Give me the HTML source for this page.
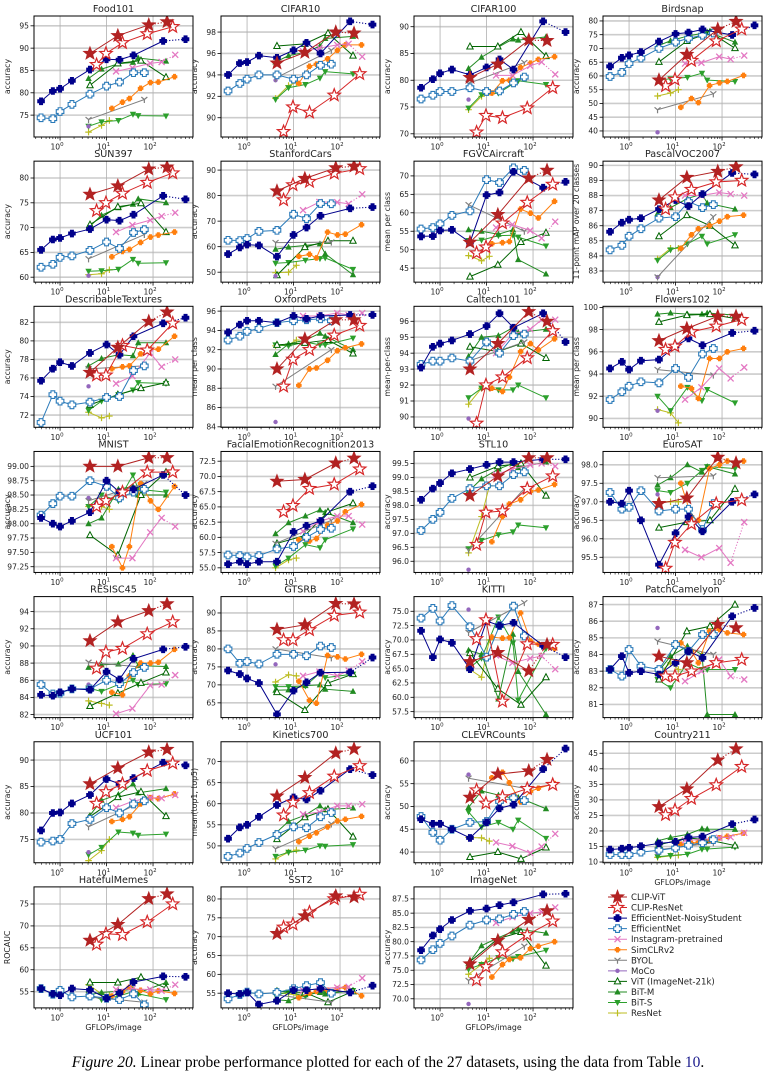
<!DOCTYPE html>
<html><head><meta charset="utf-8"><style>
body{margin:0;background:#fff}
svg{display:block}
text{font-family:"DejaVu Sans","Liberation Sans",sans-serif;fill:#222}
.cap{font-family:"Liberation Serif",serif;font-size:15.5px;fill:#000}
</style></head><body>
<svg id="fig" width="776" height="1088" viewBox="0 0 776 1088" xmlns="http://www.w3.org/2000/svg">
<text class="cap" x="388" y="1067" text-anchor="middle"><tspan font-style="italic">Figure 20.</tspan> Linear probe performance plotted for each of the 27 datasets, using the data from Table <tspan style="fill:#1a1a8c">10</tspan>.</text>
</svg>
<script>
// GFLOPs per model (x values)
const xCV=[4.4,17.5,81,200];
const xCR=[6.1,9.7,22,75,265];
const xENS=[0.39,0.7,1.0,1.8,4.4,10,19,38,165,500];
const xEFF=[0.39,0.7,1.0,1.8,4.4,10,19,38,65];
const xINS=[16,36,87,153,300];
const xSIM=[13,22,31,54,88,130,290];
const xBYOL=[4.1,65];
const xMOCO=[4.1];
const xVIT=[4.4,17.5,55,190];
const xBITM=[4.1,7.8,18,37,48,190];
const xBITS=[4.1,7.8,18,37,48,190];
const xRES=[4.1,7.8,11.5];

const seriesNames=["CLIP-ViT","CLIP-ResNet","EfficientNet-NoisyStudent","EfficientNet","Instagram-pretrained","SimCLRv2","BYOL","MoCo","ViT (ImageNet-21k)","BiT-M","BiT-S","ResNet"];
const datasetNames=["Food101","CIFAR10","CIFAR100","Birdsnap","SUN397","StanfordCars","FGVCAircraft","PascalVOC2007","DescribableTextures","OxfordPets","Caltech101","Flowers102","MNIST","FacialEmotionRecognition2013","STL10","EuroSAT","RESISC45","GTSRB","KITTI","PatchCamelyon","UCF101","Kinetics700","CLEVRCounts","Country211","HatefulMemes","SST2","ImageNet"];
const yLabels=["accuracy","accuracy","accuracy","accuracy","accuracy","accuracy","mean per class","11-point mAP over 20 classes","accuracy","mean per class","mean-per-class","mean per class","accuracy","accuracy","accuracy","accuracy","accuracy","accuracy","accuracy","accuracy","accuracy","mean(top1, top5)","accuracy","accuracy","ROCAUC","accuracy","accuracy"];
const yLimits=[[70.1,97.2],[88.2,99.5],[69.4,92],[37.8,81.8],[59,83.4],[46.1,93.5],[41.2,74],[82.26,90.28],[70.68,83.73],[83.95,96.5],[89.35,96.94],[89.2,100.1],[97.15,99.26],[54.24,74.1],[95.6,99.93],[95.09,98.36],[81.65,95.75],[60.9,94.55],[56.46,77.56],[80.21,87.48],[70.6,93.46],[46,74.7],[37.65,64.2],[9.77,48.7],[51.3,78.9],[51.1,83.2],[68.4,89.6]];
const yTicks=[[75,95,5,0],[90,98,2,0],[70,90,5,0],[40,80,5,0],[60,80,5,0],[50,90,10,0],[45,70,5,0],[83,90,1,0],[72,82,2,0],[84,96,2,0],[90,96,1,0],[90,100,2,0],[97.25,99,0.25,2],[55,72.5,2.5,1],[96,99.5,0.5,1],[95.5,98,0.5,1],[82,94,2,0],[65,90,5,0],[57.5,75,2.5,1],[81,87,1,0],[75,90,5,0],[50,70,5,0],[40,60,5,0],[10,45,5,0],[55,75,5,0],[55,80,5,0],[70,87.5,2.5,1]];

// per dataset: [CLIP-ViT, CLIP-ResNet, ENS, EffNet, Instagram, SimCLRv2, BYOL, MoCo, ViT, BiT-M, BiT-S, ResNet]
const food101=[[88.8,92.8,95.2,95.9],[86.3,88.8,91.2,93.2,94.8],[78.1,80.4,80.9,82.7,85.2,87.5,87.4,88.4,91.6,92.0],[74.4,74.2,75.8,77.4,79.7,81.5,82.4,84.5,84.5],[84.8,85.6,86.6,86.9,88.5],[76.5,77.9,78.7,81,82.3,82.4,83.6],[74,78.5],[72.5],[81.7,86.6,87.2,83.5],[83.2,85.3,86.5,86.8,87.8,87.1],[72.5,73.5,73.8,75.2,74.9,74.8],[71.2,72.7,73.8]];
const cifar10=[[95.1,96.1,98.0,97.9],[88.7,91.0,90.5,92.1,94.1],[94.0,95.1,95.2,95.8,95.6,96.3,97.0,96.0,99.0,98.7],[92.5,93.2,93.6,94.0,94.0,93.6,94.0,94.9,95.0],[96.2,96.5,96.8,96.9,95.7],[93.2,94.8,95.0,95.5,96.3,96.8,96.8],[93.7,96.3],[93.5],[96.7,96.9,97.9,95.8],[95.2,95.8,96.1,96.7,97.4,97.6],[91.7,92.8,93.1,93.7,94.3,94.1],[91.8,93.0,93.3]];
const cifar100=[[80.5,83.0,87.5,87.4],[70.3,73.4,73.0,74.8,78.6],[78.6,80.2,81.3,82.0,81.0,82.4,83.9,82.0,91.0,89.0],[76.5,77.2,77.9,77.9,78.6,77.9,78.0,79.5,80.6],[80.9,80.9,82.7,83.4,81.1],[77.6,79.9,80.0,82.4,83.2,83.9,84.4],[79.4,83.3],[76.4],[86.3,86.3,89.0,84.5],[82.2,84.3,86.2,87.7,87.5,88.1],[74.8,77.3,77.6,79.3,79.9,79.2],[74.5,77.0,77.8]];
const birdsnap=[[58.5,67.8,77.0,79.8],[56.4,58.7,65.6,72.7,77.0],[63.5,66.6,67.5,68.7,72.5,75.3,75.8,76.9,74.9,78.4],[59.8,61.3,64.5,66.5,70.0,72.3,73.7,74.8,75.6],[64.5,64.8,67.0,66.1,67.4],[48.6,51.8,50.3,56.5,57.5,58.0,60.2],[47.7,53.5],[39.5],[65.1,72.7,75.9,70.1],[70.9,72.8,74.5,75.5,76.0,72.3],[58.5,59,59.5,61,58.5,58],[52.7,53.8,55.0]];
const sun397=[[76.7,78.4,81.8,82.2],[73.4,75.0,76.9,79.1,81.0],[65.5,67.6,67.9,68.8,69.7,71.6,71.4,72.6,76.4,75.7],[62.0,62.6,64.0,64.3,65.4,67.1,65.8,69.0,69.6],[69.1,70.5,71.5,72.3,73.0],[64.1,65.2,65.6,67.0,68.1,68.5,69.1],[63.7,68.6],[60.3],[70.6,74.2,74.9,69.1],[70.0,72.5,74.0,74.7,75.8,75.0],[61.2,61.3,61.6,63.6,62.8,62.9],[60.5,60.7,61.5]];
const stanfordCars=[[81.8,86.7,90.9,91.5],[78.3,84.2,85.5,88.7,90.5],[57.1,59.7,60.8,60.5,56.1,64.6,67.5,72.1,75.0,75.5],[62.5,62.4,63.2,66.0,66.4,72.7,71.0,76.9,76.8],[74.3,77.5,77.4,76.8,80.5],[56.2,57,55.6,65.7,64.6,64.9,68.6],[61.6,61.8],[48.5],[48.8,59.8,62.3,62.3],[59,59.8,60.5,61.1,57.2,49],[53.5,53.8,54.7,55.3,55.6,51.1],[49.8,50,52.7]];
const fgvcAircraft=[[52.0,59.5,69.4,71.5],[49.1,50.7,57.2,62.8,67.7],[53.6,53.7,55.2,55.4,52.0,64.8,65.5,71.1,66.8,68.4],[55.6,56.0,57.0,59.3,60.5,69.0,68.2,72.2,71.5],[56,56.8,55.2,53.1,57.6],[51.6,51.9,52.2,61.0,59.9,58.6,63.1],[62.2,55],[51.5],[42.7,45.9,52.1,54.6],[55.4,55.0,54.2,55.4,47.3,43.4],[52.5,52.6,53.8,53.9,53.4,51],[48.4,47,48.2]];
const pascalVOC=[[87.7,89.2,89.6,89.9],[87.1,87.9,88.4,88.9,89.0],[85.6,86.2,86.4,86.5,87.1,87.7,87.3,88.1,89.5,89.4],[84.4,84.7,85.3,85.8,86.5,86.6,87.6,87.2,87.4],[88.0,88.0,88.2,88.1,88.0],[84.5,85.4,85.8,86.0,86.3,86.6,86.7],[82.6,86.6],[82.6],[85.3,86.7,86.0,84.7],[86.8,87.2,87.8,88.1,87.5,87.1],[83.7,84.4,84.8,85.3,84.8,85.4],[83.8,84.5,84.5]];
const dtd=[[76.6,79.3,82.1,83.1],[76.3,76.3,79.5,79.0,81.9],[75.7,77.0,77.7,77.3,78.7,79.6,78.5,80.5,81.9,82.5],[71.2,74.2,73.5,73.1,73.4,73.9,74.0,76.8,77.3],[75.4,76.2,78.7,77.2,78.0],[77.0,77.2,77.3,78.6,79.1,79.1,80.5],[77.0,77.3],[75.1],[73.1,74.2,74.9,75.5],[77.3,78.1,78.5,78.4,79.8,79.8],[72.5,73.5,74.2,74.7,75.5,75.4],[72.3,71.7,71.9]];
const oxfordPets=[[90.0,93.1,95.1,95.1],[88.2,91.0,92.0,93.5,94.5],[93.8,94.6,95.0,95.0,94.8,95.5,95.2,95.5,95.6,95.6],[93.0,93.4,93.9,94.2,94.8,95.0,95.1,95.2,95.0],[95.5,95.5,95.8,95.6,95.8],[88.3,90.0,90.1,90.9,91.9,92.2,92.6],[88.2,92.0],[84.5],[92.5,92.7,93.0,91.6],[91.5,92.6,93.0,93.7,93.4,92.0],[92.5,92.4,92.8,92.5,92.5,93.2],[92.4,92.5,93.0]];
const caltech101=[[93.0,94.6,96.6,96.0],[89.6,92.0,92.5,93.7,95.4],[93.1,94.4,94.6,94.8,95.2,95.7,96.5,95.6,96.5,94.7],[93.3,93.5,93.5,93.7,93.5,94.7,94.0,95.1,95.2],[94,95.2,95.5,96.1,96.1],[91.8,91.6,92.5,94.1,94.6,94.2,94.9],[93.5,94.7],[89.9],[94.4,94.1,94.6,93.7],[93.8,95.0,95.1,95.6,95.3,95.5],[91.2,91.8,91.7,91.7,92.0,91.2],[90.8,91.8,91.8]];
const flowers102=[[97.0,98.1,99.2,99.2],[96.2,96.5,97.8,98.3,98.9],[94.5,95.1,94.4,95.2,95.3,96.5,97.2,96.6,97.7,97.9],[91.7,92.4,92.9,93.3,93.2,94.5,93.7,95.8,96.3],[91.7,92.8,94.5,93.6,94.6],[92.9,92.7,91.8,95.4,95.4,96.0,96.3],[94.4,93.9],[90.7],[98.7,99.3,99.4,99.0],[99.4,99.5,99.4,99.4,99.5,99.3],[92.0,90.7,92.8,91.6,92.6,91.4],[90.8,90.5,89.6]];
const mnist=[[99.0,99.0,99.15,99.15],[98.3,98.4,98.55,98.9,98.9],[98.1,98.0,97.95,98.05,98.2,98.75,98.55,98.6,98.85,98.5],[98.15,98.35,98.48,98.48,98.75,98.65,98.45,98.55,98.6],[97.4,97.4,97.85,98.1,97.95],[97.6,97.23,97.6,98.7,98.4,98.25,98.65],[98.4,98.7],[98.45],[97.8,97.45,98.5,98.9],[98.0,98.1,98.6,98.65,98.5,98.5],[98.3,98.5,98.4,98.85,98.6,98.55],[98.3,98.3,98.25]];
const fer2013=[[69.2,69.5,72.2,73.0],[64.2,65.2,68.0,68.7,71.2],[55.6,56.0,55.6,56.0,56.0,60.9,61.9,62.7,67.5,68.4],[57.1,57.0,56.8,57.0,58.1,58.5,60.0,61.3,61.5],[61.0,62.6,63.5,63.5,62.1],[59.6,59.4,59.8,62.0,62.7,64.2,65.4],[59.0,62.8],[58.1],[59.0,60.3,64.2,65.6],[60.6,62.4,63.5,64.5,64.1,62.4],[55.3,56.6,58.8,58.3,59.6,61.4],[55.0,56.3,56.6]];
const stl10=[[98.35,99.05,99.7,99.7],[96.6,97.75,97.8,98.6,99.05],[98.2,98.6,98.8,99.15,99.3,99.45,99.55,99.55,99.65,99.65],[97.1,97.5,97.75,98.25,98.6,98.7,98.7,99.1,99.2],[99.1,99.3,99.45,99.5,99.4],[96.7,97.6,98.05,98.2,98.5,98.55,98.75],[96.4,98.6],[95.7],[99.0,99.4,99.5,98.35],[98.5,98.95,99.3,99.5,99.35,99.55],[96.45,96.75,96.95,97.05,97.3,97.2],[96.3,97.6,98.7]];
const eurosat=[[96.95,97.1,98.2,98.05],[95.2,95.9,96.4,96.95,97.05],[97.0,96.95,97.3,96.5,95.3,96.15,96.6,96.2,97.0,97.2],[97.25,96.8,96.85,97.3,96.75,96.8,96.8,96.25,96.95],[95.7,95.5,95.75,95.35,96.45],[97.5,96.6,96.5,97.9,98.0,98.1,98.1],[97.65,97.7],[97.2],[96.3,96.45,96.5,97.35],[97.45,97.65,98.0,97.8,97.95,97.75],[97.3,97.25,97.5,97.85,97.95,97.9],[97.0,97.0,97.0]];
const resisc45=[[90.6,92.8,94.1,94.9],[87.4,89.3,89.7,91.4,92.8],[84.3,84.2,84.6,85.0,84.9,87.0,86.1,88.5,89.6,89.9],[85.5,84.4,84.5,85.0,85.0,86.0,85.6,86.9,87.5],[82.1,82.7,85.4,85.5,86.6],[84.6,84.3,86.5,88.0,88.0,88.1,89.6],[88.1,87.5],[85.5],[83.0,84.5,85.7,86.9],[87.5,87.8,87.9,88.9,87.7,87.6],[85.1,84.7,85.5,86.0,85.5,85.6],[83.6,83.3,83.1]];
const gtsrb=[[85.4,86.7,92.6,92.5],[82.5,82.5,85.3,89.3,90.2],[74.0,73.0,71.8,70.5,61.8,68.4,70.7,73.4,73.5,77.6],[80.0,76.0,76.5,75.8,78.5,78.5,78.1,80.8,80.4],[72.5,73.7,72.5,74.0,76.5],[71,65.7,64.9,78.2,77.8,77.2,78.5],[80,77.5],[75.7],[68.0,63.0,70.5,73.0],[68.5,68.6,69.8,70.0,68.8,68.2],[69.5,69.5,69.7,73.3,72.0,73.0],[70.8,72.8,72.5]];
const kitti=[[66.2,67.8,64.6,69.2],[70.2,73.5,59.3,69.3,69.2],[71.6,67.0,70.1,69.5,64.9,73.3,72.5,73.0,69.0,67.0],[73.8,75.5,73.3,76.0,72.3,67.0,72.5,75.9,70.7],[67.3,66.0,66.8,67.2,64.9],[70.5,70.3,70.4,74.7,69.8,69.3,68.5],[71.3,76.5],[75.3],[67.7,61.5,58.7,63.5],[68.2,67.5,59.7,71.0,64.5,57.0],[65.0,66.8,74.0,69.5,59.5,68.5],[65.0,63.5,70.0]];
const pcam=[[83.9,83.5,85.8,85.6],[82.7,82.7,83.0,83.5,83.7],[83.1,83.9,82.9,83.0,82.8,83.5,84.2,83.8,86.3,86.8],[83.1,82.7,84.3,83.3,83.1,84.6,84.2,85.2,85.2],[82.4,83.0,83.7,82.7,82.5],[84.7,84.2,83.5,85.4,85.5,85.3,85.2],[84.8,84.0],[85.6],[82.5,85.4,85.7,87.0],[82.9,83.9,84.5,84.0,80.4,80.4],[82.5,82.0,83.5,83.1,83.1,83.1],[82.8,83.5,83.1]];
const ucf101=[[85.5,88.5,91.5,92.0],[81.8,84.0,85.5,88.0,89.4],[76.7,80.0,80.1,81.8,83.4,86.4,85.5,86.6,89.5,89.0],[74.5,74.7,75.0,78.0,78.8,81.0,80.0,81.7,82.3],[81.0,82.2,82.9,82.8,83.4],[78.4,78.8,79.3,81.7,82.9,82.7,83.6],[77.4,82.3],[72.6],[79.3,83.0,84.0,79.4],[79.2,82.4,83.5,85.5,83.8,84.6],[72.1,73.5,76.4,76.2,75.8,76.0],[71.0,72.9,75.0]];
const kinetics700=[[61.8,66.2,72.0,73.0],[57.3,60.3,62.6,66.5,69.0],[51.7,54.4,55.0,56.9,59.7,61.5,61.0,63.1,68.2,66.8],[47.5,48.3,49.4,50.8,52.7,54.5,54.3,56.9,57.9],[57.5,58.0,59.5,59.5,59.9],[51.0,52.3,53.1,54.5,55.9,56.3,57.0],[49.3,55.2],[52.5],[51.6,56.8,58.7,52.2],[53.0,55.8,57.3,59.5,58.6,59.0],[47.5,48.5,49.0,50.0,49.9,50.3],[46.9,48.5,49.0]];
const clevrCounts=[[52.0,57.1,57.8,60.3],[53.6,50.7,52.1,53.9,54.8],[47.2,46.2,46.2,45.0,43.1,46.5,49.6,50.4,58.2,62.7],[47.8,44.3,42.6,45.0,46.5,46.7,51.1,51.9,51.3],[42.1,41.3,39.8,41.2,44.0],[56.3,57.5,55.2,51.0,53.3,54.0,55.0],[56.2,54.0],[57.0],[38.9,40.0,38.5,41.0],[49.8,53.4,52.5,51.8,52.0,49.5],[48.8,45.5,46.5,45.0,47.0,43.0],[43.2,43.1,42.4]];
const country211=[[27.8,33.5,42.8,46.4],[25.2,26.7,30.4,34.8,40.7],[14.0,14.3,14.6,15.1,16.0,16.5,17.9,18.2,22.2,23.7],[12.4,12.4,12.4,13.2,13.8,14.5,15.4,16.2,17.2],[17.0,17.2,17.8,18.0,19.4],[15.7,16.0,16.4,17.1,17.8,18.3,19.3],[13.9,16.2],[13.0],[15.5,17.8,17.0,15.3],[16.8,17.9,18.9,20.7,20.6,20.5],[11.7,12.1,12.5,14.1,14.2,14.8],[11.5,12.0,12.2]];
const hatefulMemes=[[66.7,70.3,76.2,77.3],[65.8,68.2,68.0,70.9,75.0],[55.7,54.5,54.2,55.7,55.4,53.5,54.7,57.2,58.5,58.4],[55.7,54.4,55.3,53.8,54.0,53.5,53.2,54.5,52.0],[55.5,55.6,55.5,55.2,56.6],[54.0,55.0,56.0,55.3,54.5,55.2,54.6],[53.8,52.6],[54.5],[57.1,57.1,58.3,55.8],[54.3,54.8,55.1,55.6,54.7,57.1],[54.4,53.2,54.0,55.0,54.5,53.2],[56.6,54.5,54.3]];
const sst2=[[70.8,75.5,80.8,80.5],[72.5,73.3,76.5,80.0,81.2],[55.0,54.8,55.2,52.0,53.0,55.8,55.8,56.2,55.2,57.0],[53.5,54.6,55.3,54.8,55.2,56.2,57.0,57.8,55.0],[55.7,56.2,56.5,56.7,59.0],[53.8,55.0,55.5,55.8,56.2,56.5,54.3],[54.6,52.6],[55.3],[55.5,55.2,52.6,55.5],[53.3,53.0,54.6,55.2,54.8,55.7],[54.5,55.3,54.2,55.5,55.0,55.7],[55.2,54.8,54.5]];
const imagenet=[[76.1,80.2,83.9,85.4],[73.3,75.6,78.2,81.2,83.6],[78.5,81.1,82.2,83.8,85.4,85.8,86.4,86.9,88.3,88.4],[76.8,78.6,79.7,81.0,82.9,83.8,84.0,84.8,85.3],[83.3,84.3,85.0,85.2,86.0],[73.8,76.0,76.9,77.2,78.8,79.2,80.0],[73.2,79.2],[69.1],[76.5,80.5,81.7,75.8],[76.2,79.3,80.7,81.8,82.2,81.5],[75.2,76.0,77.2,77.0,77.4,78.5],[74.3,76.0,77.1]];

const allData=[food101,cifar10,cifar100,birdsnap,sun397,stanfordCars,fgvcAircraft,pascalVOC,dtd,oxfordPets,caltech101,flowers102,mnist,fer2013,stl10,eurosat,resisc45,gtsrb,kitti,pcam,ucf101,kinetics700,clevrCounts,country211,hatefulMemes,sst2,imagenet];
const xsAll=[xCV,xCR,xENS,xEFF,xINS,xSIM,xBYOL,xMOCO,xVIT,xBITM,xBITS,xRES];

const NS="http://www.w3.org/2000/svg";
const svg=document.getElementById('fig');
const colL=[34,221,414,603], PW=159, PH=121;
const slugs=["clip-vit","clip-resnet","efficientnet-noisystudent","efficientnet","instagram","simclrv2","byol","moco","vit-in21k","bit-m","bit-s","resnet"];
const lineCol=["#b22222","#d62728","#00008b","#2a7ab9","#e377c2","#ff7f0e","#7f7f7f","#9467bd","#006400","#228b22","#2ca02c","#bcbd22"];
const dotLast=[true,false,true,false,true,false,false,false,false,false,false,false];

function el(tag,attrs,parent){const e=document.createElementNS(NS,tag);for(const k in attrs)e.setAttribute(k,attrs[k]);(parent||svg).appendChild(e);return e;}
function starPts(cx,cy,r){let p=[];for(let i=0;i<10;i++){const rr=i%2?r*0.42:r;const a=-Math.PI/2+i*Math.PI/5;p.push((cx+rr*Math.cos(a)).toFixed(2)+","+(cy+rr*Math.sin(a)).toFixed(2));}return p.join(" ");}
function plusPts(cx,cy,r,w){const a=w;return [[-a,-r],[a,-r],[a,-a],[r,-a],[r,a],[a,a],[a,r],[-a,r],[-a,a],[-r,a],[-r,-a],[-a,-a]].map(q=>(cx+q[0]).toFixed(2)+","+(cy+q[1]).toFixed(2)).join(" ");}
function marker(s,cx,cy,g){
  let m;
  switch(s){
    case 0:m=el('polygon',{points:starPts(cx,cy,6.8),fill:"#b22222",stroke:"#b22222","stroke-width":0.8},g);break;
    case 1:m=el('polygon',{points:starPts(cx,cy,6.5),fill:"#fff",stroke:"#d62728","stroke-width":1.2},g);break;
    case 2:m=el('polygon',{points:plusPts(cx,cy,3.8,2),fill:"#00008b"},g);break;
    case 3:m=el('polygon',{points:plusPts(cx,cy,3.8,1.9),fill:"#fff",stroke:"#2a7ab9","stroke-width":1.1},g);break;
    case 4:m=el('path',{d:`M${cx-3},${cy-3}L${cx+3},${cy+3}M${cx-3},${cy+3}L${cx+3},${cy-3}`,stroke:"#e377c2","stroke-width":1.3,fill:"none"},g);break;
    case 5:m=el('polygon',{points:plusPts(cx,cy,2.8,1.5),fill:"#ff7f0e"},g);break;
    case 6:m=el('path',{d:`M${cx},${cy}L${cx},${cy+3.5}M${cx},${cy}L${cx-3},${cy-2.5}M${cx},${cy}L${cx+3},${cy-2.5}`,stroke:"#7f7f7f","stroke-width":1.2,fill:"none"},g);break;
    case 7:m=el('circle',{cx:cx,cy:cy,r:2.2,fill:"#9467bd"},g);break;
    case 8:m=el('polygon',{points:`${cx},${cy-3.5} ${cx+3.2},${cy+2.5} ${cx-3.2},${cy+2.5}`,fill:"#fff",stroke:"#006400","stroke-width":1},g);break;
    case 9:m=el('polygon',{points:`${cx},${cy-3.5} ${cx+3.2},${cy+2.5} ${cx-3.2},${cy+2.5}`,fill:"#228b22"},g);break;
    case 10:m=el('polygon',{points:`${cx},${cy+3.5} ${cx+3.2},${cy-2.5} ${cx-3.2},${cy-2.5}`,fill:"#2ca02c"},g);break;
    case 11:m=el('path',{d:`M${cx-3.3},${cy}L${cx+3.3},${cy}M${cx},${cy-3.3}L${cx},${cy+3.3}`,stroke:"#bcbd22","stroke-width":1.2,fill:"none"},g);break;
  }
  return m;
}
const LX0=Math.log10(0.275), LX1=Math.log10(724);
function drawPanel(i){
  const r=Math.floor(i/4), c=i%4;
  const L=colL[c], T=16+r*145.15;
  const [y0,y1]=yLimits[i];
  const xs=v=>L+(Math.log10(v)-LX0)/(LX1-LX0)*PW;
  const ys=v=>T+PH-(v-y0)/(y1-y0)*PH;
  const g=el('g',{});
  
  
  const clipId='clip'+i;
  const cp=el('clipPath',{id:clipId},g);el('rect',{x:L,y:T,width:PW,height:PH},cp);
  // horizontal grid + y ticks
  const [ts,te,st,dec]=yTicks[i];
  for(let v=ts;v<=te+1e-9;v+=st){
    const y=ys(v);
    const gl=el('line',{x1:L,x2:L+PW,y1:y,y2:y,stroke:"#cccccc","stroke-width":1.6},g);
    
    el('line',{x1:L-3.5,x2:L,y1:y,y2:y,stroke:"#000","stroke-width":0.8},g);
    const t=el('text',{x:L-5,y:y+2.7,"font-size":"7.6","text-anchor":"end"},g);t.textContent=v.toFixed(dec);
    
  }
  // vertical grid + x ticks
  for(let d=-1;d<=2;d++){
    for(let k=1;k<10;k++){
      const v=k*Math.pow(10,d);const x=xs(v);
      if(x<L||x>L+PW)continue;
      if(k==1){
        el('line',{x1:x,x2:x,y1:T,y2:T+PH,stroke:"#b0b0b0","stroke-width":0.8},g);
        el('line',{x1:x,x2:x,y1:T+PH,y2:T+PH+3.5,stroke:"#000","stroke-width":0.8},g);
        if(d>=0){const t=el('text',{x:x-3,y:T+PH+12.5,"font-size":"7.6","text-anchor":"middle"},g);
          t.innerHTML='10<tspan dy="-3.5" font-size="5.5">'+d+'</tspan>';
          }
      } else el('line',{x1:x,x2:x,y1:T+PH,y2:T+PH+2,stroke:"#000","stroke-width":0.6},g);
    }
  }
  // series (drawn back to front)
  const sg=el('g',{"clip-path":`url(#${clipId})`},g);
  const data=allData[i];
  for(let s=11;s>=0;s--){
    const xv=xsAll[s], yv=data[s];
    const ser=el('g',{},sg);
    
    
    const pts=xv.map((x,j)=>[xs(x),ys(yv[j])]);
    if(pts.length>1){
      const n=dotLast[s]?pts.length-1:pts.length;
      el('polyline',{points:pts.slice(0,n).map(p=>p.join(",")).join(" "),fill:"none",stroke:lineCol[s],"stroke-width":1},ser);
      if(dotLast[s]) el('line',{x1:pts[n-1][0],y1:pts[n-1][1],x2:pts[n][0],y2:pts[n][1],stroke:lineCol[s],"stroke-width":1.1,"stroke-dasharray":"1.2,1.8"},ser);
    }
    pts.forEach(p=>{const m=marker(s,p[0],p[1],ser);});
  }
  const fr=el('rect',{x:L,y:T,width:PW,height:PH,fill:"none",stroke:"#000","stroke-width":1},g);
  
  const tt=el('text',{x:L+PW/2,y:T-4,"font-size":"9.6","text-anchor":"middle"},g);tt.textContent=datasetNames[i];
  
  const yl=el('text',{x:0,y:0,"font-size":"7.8","text-anchor":"middle",transform:`translate(${L-24},${T+PH/2}) rotate(-90)`},g);yl.textContent=yLabels[i];
  
  if(r==6||i==23){const xl=el('text',{x:L+PW/2,y:T+PH+22,"font-size":"7.8","text-anchor":"middle"},g);xl.textContent="GFLOPs/image";
    }
}
for(let i=0;i<27;i++)drawPanel(i);
// legend
const lg=el('g',{});


seriesNames.forEach((nm,s)=>{
  const y=897+s*10.55;
  const e=el('g',{},lg);
  
  
  el('line',{x1:608,x2:627,y1:y,y2:y,stroke:lineCol[s],"stroke-width":1},e);
  marker(s,617.5,y,e);
  const t=el('text',{x:631,y:y+3,"font-size":"8.6"},e);t.textContent=nm;
});
</script>
</body></html>
